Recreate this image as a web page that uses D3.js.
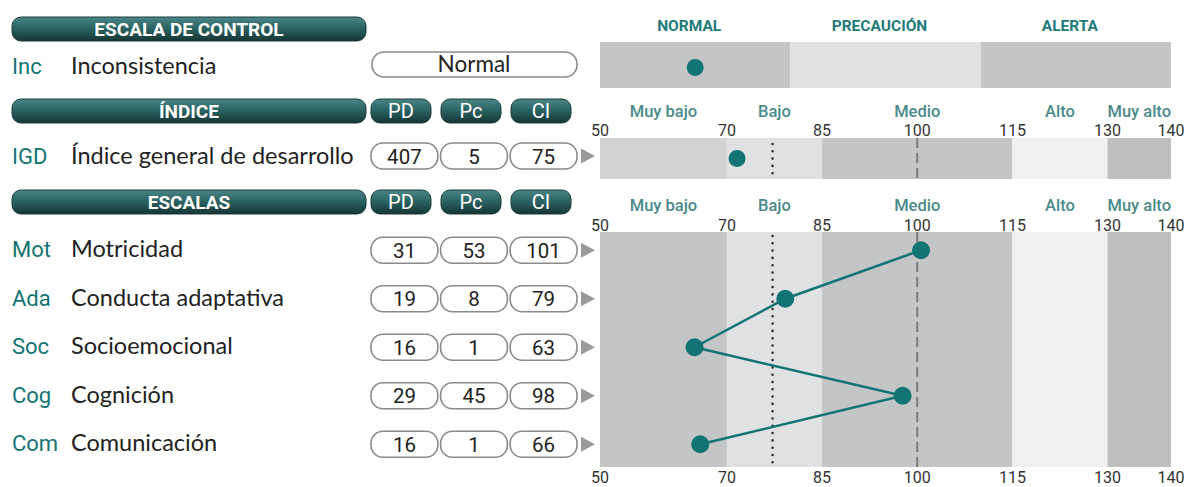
<!DOCTYPE html>
<html>
<head>
<meta charset="utf-8">
<script src="https://cdn.jsdelivr.net/npm/d3@7"></script>
<style>
  body { margin: 0; background: #fff; }
  svg { display: block; }
</style>
</head>
<body>
<svg id="profile-svg"></svg>
<script>
// data
const controlZones = ["NORMAL", "PRECAUCIÓN", "ALERTA"];
const controlResult = "Normal";
const controlZoneIndex = 0;

const bandEdges = [50, 70, 85, 115, 130, 140];
const bandNames = ["Muy bajo", "Bajo", "Medio", "Alto", "Muy alto"];
const tickValues = [50, 70, 85, 100, 115, 130, 140];
const meanLine = 100;
const cutLine = 77.2;

const igdAbbr = "IGD";
const igdName = "Índice general de desarrollo";
const igdScores = [407, 5, 75]; // PD, Pc, CI
const igdPlot = 71.6;

const scaleAbbr = ["Mot", "Ada", "Soc", "Cog", "Com"];
const scaleNames = ["Motricidad", "Conducta adaptativa", "Socioemocional", "Cognición", "Comunicación"];
const scalePD = [31, 19, 16, 29, 16];
const scalePc = [53, 8, 1, 45, 1];
const scaleCI = [101, 79, 63, 98, 66];
const scalePlot = [100.6, 79.2, 64.9, 97.7, 65.8];

const scoreHeads = ["PD", "Pc", "CI"];

const width = 1184;
const height = 487;
const teal = "#137474";
const labelFont = "Roboto, 'Liberation Sans', sans-serif";
const nameFont = "Lato, 'Open Sans', sans-serif";

let svg = d3.select("#profile-svg").attr("width", width).attr("height", height);

// gradient for the dark pills
const defs = svg.append("defs");
const grad = defs.append("linearGradient").attr("id", "pill-grad")
    .attr("x1", 0).attr("y1", 0).attr("x2", 0).attr("y2", 1);
grad.append("stop").attr("offset", "0%").attr("stop-color", "#4b8686");
grad.append("stop").attr("offset", "45%").attr("stop-color", "#2c6464");
grad.append("stop").attr("offset", "100%").attr("stop-color", "#163535");

const x = d3.scaleLinear().domain([50, 140]).range([600, 1171]);
const xZone = d3.scaleBand().domain(controlZones).range([600, 1171]);
const xHead = d3.scaleBand().domain(scoreHeads).range([371, 571]).paddingInner(0.143).paddingOuter(0);
const xBox = d3.scaleBand().domain(scoreHeads).range([371, 577]).paddingInner(0.04).paddingOuter(0);
const yRow = d3.scaleBand().domain(scaleAbbr).range([226, 468.5]);

function pill(x0, y0, w, h, label, size, weight) {
    svg.append("rect")
        .attr("x", x0).attr("y", y0).attr("width", w).attr("height", h)
        .attr("rx", 9)
        .attr("fill", "url(#pill-grad)")
        .attr("stroke", "#1b3c3c").attr("stroke-width", 1);
    svg.append("text")
        .attr("x", x0 + w / 2).attr("y", y0 + h / 2 + size * 0.36)
        .attr("text-anchor", "middle")
        .attr("font-family", labelFont)
        .attr("font-weight", weight)
        .attr("font-size", size)
        .attr("fill", "#fff")
        .text(label);
}

function rowLabel(cy, abbr, name) {
    svg.append("text")
        .attr("x", 12).attr("y", cy + 8)
        .attr("font-family", labelFont).attr("font-size", 22)
        .attr("fill", teal)
        .text(abbr);
    svg.append("text")
        .attr("x", 71).attr("y", cy + 8)
        .attr("font-family", nameFont).attr("font-size", 23.5)
        .attr("fill", "#222")
        .text(name);
}

function scoreBoxes(cy, values) {
    scoreHeads.forEach((h, i) => {
        svg.append("rect")
            .attr("x", xBox(h)).attr("y", cy - 13)
            .attr("width", xBox.bandwidth()).attr("height", 26)
            .attr("rx", 12)
            .attr("fill", "#fff").attr("stroke", "#8a8a8a").attr("stroke-width", 1.6);
        svg.append("text")
            .attr("x", xBox(h) + xBox.bandwidth() / 2).attr("y", cy + 7.5)
            .attr("text-anchor", "middle")
            .attr("font-family", labelFont).attr("font-size", 20.5)
            .attr("fill", "#222")
            .text(values[i]);
    });
    svg.append("polygon")
        .attr("points", [[581, cy - 7.5], [595, cy], [581, cy + 7.5]].join(" "))
        .attr("fill", "#9a9a9a");
}

function bandAxis(yCat, yNum) {
    svg.selectAll(null)
        .data(bandNames)
        .enter()
        .append("text")
        .attr("x", (d, i) => x(d === "Medio" ? meanLine : (bandEdges[i] + bandEdges[i + 1]) / 2))
        .attr("y", yCat)
        .attr("text-anchor", "middle")
        .attr("font-family", labelFont).attr("font-weight", 500).attr("font-size", 16.5)
        .attr("fill", "#4a8a8a")
        .text(d => d);
    tickRow(yNum);
}

function tickRow(yNum) {
    svg.selectAll(null)
        .data(tickValues)
        .enter()
        .append("text")
        .attr("x", d => x(d))
        .attr("y", yNum)
        .attr("text-anchor", "middle")
        .attr("font-family", labelFont).attr("font-size", 16)
        .attr("fill", "#333")
        .text(d => d);
}

function bands(y0, y1, colours) {
    svg.selectAll(null)
        .data(bandNames)
        .enter()
        .append("rect")
        .attr("x", (d, i) => x(bandEdges[i]))
        .attr("y", y0)
        .attr("width", (d, i) => x(bandEdges[i + 1]) - x(bandEdges[i]))
        .attr("height", y1 - y0)
        .attr("fill", (d, i) => colours[i]);
}

function refLines(yd0, yd1, ym0, ym1) {
    svg.append("line")
        .attr("x1", x(cutLine)).attr("x2", x(cutLine))
        .attr("y1", yd0).attr("y2", yd1)
        .attr("stroke", "#333").attr("stroke-width", 2.6)
        .attr("stroke-linecap", "round")
        .attr("stroke-dasharray", "0,7.3");
    svg.append("line")
        .attr("x1", x(meanLine)).attr("x2", x(meanLine))
        .attr("y1", ym0).attr("y2", ym1)
        .attr("stroke", "#7a7a7a").attr("stroke-width", 2)
        .attr("stroke-dasharray", "10,5");
}

// ---- control scale ----
pill(12, 17, 354, 24, "ESCALA DE CONTROL", 19, 700);
rowLabel(66, "Inc", "Inconsistencia");
svg.append("rect")
    .attr("x", 372).attr("y", 52).attr("width", 205).attr("height", 25)
    .attr("rx", 12)
    .attr("fill", "#fff").attr("stroke", "#8a8a8a").attr("stroke-width", 1.6);
svg.append("text")
    .attr("x", 474).attr("y", 71.5)
    .attr("text-anchor", "middle")
    .attr("font-family", nameFont).attr("font-size", 22.5)
    .attr("fill", "#222")
    .text(controlResult);

svg.selectAll(null)
    .data(controlZones)
    .enter()
    .append("rect")
    .attr("x", d => xZone(d)).attr("y", 42)
    .attr("width", xZone.bandwidth()).attr("height", 46)
    .attr("fill", (d, i) => i === 1 ? "#e0e1e3" : "#c4c5c7");
svg.selectAll(null)
    .data(controlZones)
    .enter()
    .append("text")
    .attr("x", d => xZone(d) + xZone.bandwidth() / 2 - 6)
    .attr("y", 31)
    .attr("text-anchor", "middle")
    .attr("font-family", labelFont).attr("font-weight", 700).attr("font-size", 15.5)
    .attr("fill", "#1f7a7a")
    .text(d => d);
svg.append("circle")
    .attr("cx", xZone(controlZones[controlZoneIndex]) + xZone.bandwidth() / 2)
    .attr("cy", 67.5).attr("r", 8.5)
    .attr("fill", teal);

// ---- general index ----
pill(12, 99, 354, 24, "ÍNDICE", 19, 700);
scoreHeads.forEach(h => pill(xHead(h), 99, xHead.bandwidth(), 24, h, 20, 400));
rowLabel(156, igdAbbr, igdName);
scoreBoxes(156, igdScores);

bandAxis(117, 136);
bands(138, 179, ["#d1d2d4", "#e0e1e3", "#c4c5c7", "#f0f0f0", "#bebfc1"]);
refLines(144, 175, 138, 179);
svg.append("circle")
    .attr("cx", x(igdPlot)).attr("cy", 158.5).attr("r", 8.5)
    .attr("fill", teal);

// ---- scales ----
pill(12, 190, 354, 24, "ESCALAS", 19, 700);
scoreHeads.forEach(h => pill(xHead(h), 190, xHead.bandwidth(), 24, h, 20, 400));

const rowMid = d => yRow(d) + yRow.bandwidth() / 2;
scaleAbbr.forEach((a, i) => {
    rowLabel(rowMid(a) - 1, a, scaleNames[i]);
    scoreBoxes(rowMid(a), [scalePD[i], scalePc[i], scaleCI[i]]);
});

bandAxis(211, 231);
bands(232, 467, ["#c4c5c7", "#e0e1e3", "#c4c5c7", "#f0f0f0", "#bebfc1"]);
refLines(236, 467, 232, 467);
tickRow(483);

const profile = scaleAbbr.map((a, i) => [x(scalePlot[i]), rowMid(a)]);
svg.append("path")
    .attr("d", d3.line()(profile))
    .attr("fill", "none")
    .attr("stroke", teal).attr("stroke-width", 2.5);
svg.selectAll(null)
    .data(profile)
    .enter()
    .append("circle")
    .attr("cx", d => d[0]).attr("cy", d => d[1]).attr("r", 9)
    .attr("fill", teal);
</script>
</body>
</html>
